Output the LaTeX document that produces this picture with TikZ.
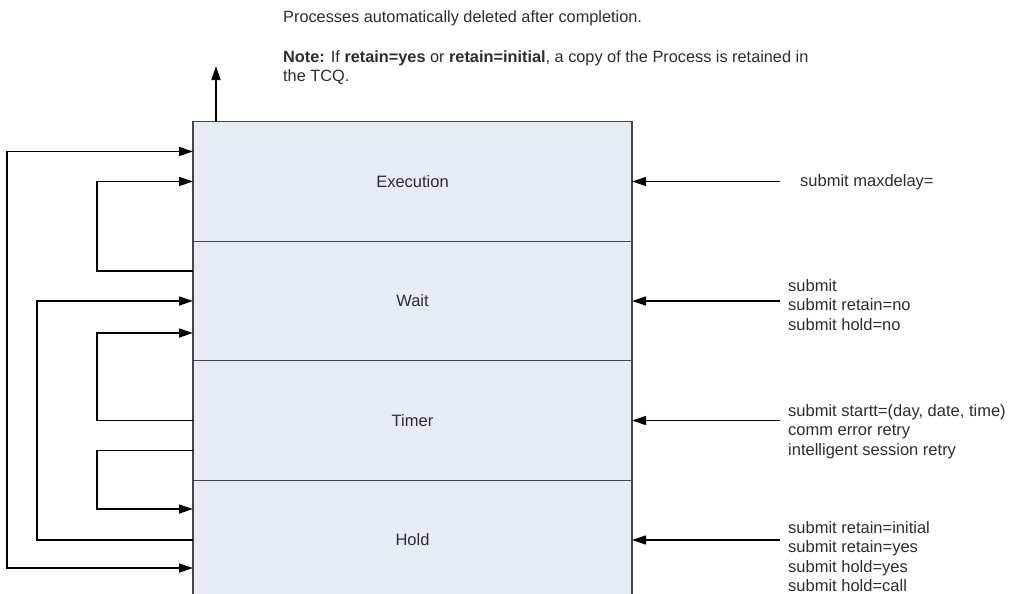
\documentclass[tikz,border=0pt]{standalone}
\usepackage{fontspec}
\setmainfont{Liberation Sans}
\usetikzlibrary{positioning, arrows.meta}
\definecolor{rowfill}{RGB}{231,235,246}
\definecolor{boxline}{RGB}{70,70,70}
\definecolor{textgray}{RGB}{45,45,45}

\begin{document}
\begin{tikzpicture}[
    x=1pt, y=-1pt,
    arr/.tip={Triangle[length=14pt, width=9pt]},
    row/.style={draw=boxline, line width=1.3pt, fill=rowfill, outer sep=0pt,
        minimum width=439pt, minimum height=119.5pt, inner sep=0pt,
        text=textgray, font=\fontsize{16.5}{19.5}\selectfont},
    flow/.style={line width=1.3pt, -arr},
    both/.style={line width=1.3pt, arr-arr},
    cmd/.style={anchor=west, align=left, inner sep=0pt, text=textgray,
        font=\fontsize{16.5}{19.5}\selectfont},
    remark/.style={anchor=west, align=left, inner sep=0pt, text=textgray,
        font=\fontsize{16.3}{19}\selectfont},
  ]
  \clip (0,0) rectangle (1009,594);

  % queue rows
  \node[row] (exec) at (412.5,181.5) {Execution};
  \node[row, below=0pt of exec] (wait) {Wait};
  \node[row, below=0pt of wait] (timer) {Timer};
  \node[row, below=0pt of timer] (hold) {Hold};

  % completion
  \coordinate (done) at (216,66);
  \draw[flow] (exec.north west -| done) -- (done);
  \node[remark] (deleted) at (283,18) {Processes automatically deleted after completion.};
  \node[remark] (retained) at (283,67.5) {\textbf{Note:} If \textbf{retain=yes} or \textbf{retain=initial}, a copy of the Process is retained in\\the TCQ.};

  % moves between queues
  \draw[flow] ([yshift=30pt]wait.west) -- ++(-96,0) |- (exec.west);
  \draw[flow] (timer.west) -- ++(-96,0) |- ([yshift=-32pt]wait.west);
  \draw[flow] ([yshift=-30pt]timer.west) -- ++(-96,0) |- ([yshift=31pt]hold.west);
  \draw[flow] (hold.west) -- ++(-156,0) |- (wait.west);
  \draw[both] ([yshift=-28pt]hold.west) -- ++(-186,0) |- ([yshift=30pt]exec.west);

  % commands
  \coordinate (inlane) at (780,0);
  \node[cmd] (maxdelay) at (800,182) {submit maxdelay=};
  \node[cmd] (submits) at (788,305) {submit\\submit retain=no\\submit hold=no};
  \node[cmd] (retries) at (788,431.5) {submit startt=(day, date, time)\\comm error retry\\intelligent session retry};
  \node[cmd] (holds) at (788,556.5) {submit retain=initial\\submit retain=yes\\submit hold=yes\\submit hold=call};
  \draw[flow] (exec.east -| inlane) -- (exec.east);
  \draw[flow] (wait.east -| inlane) -- (wait.east);
  \draw[flow] (timer.east -| inlane) -- (timer.east);
  \draw[flow] (hold.east -| inlane) -- (hold.east);
\end{tikzpicture}
\end{document}
